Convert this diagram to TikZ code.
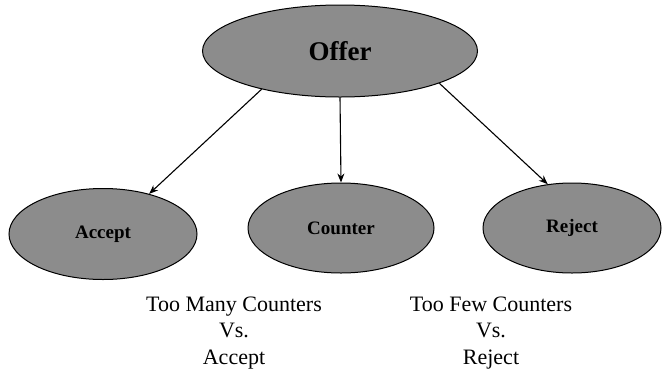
\documentclass[tikz,border=0pt]{standalone}
\usepackage{fontspec}
\setmainfont{Liberation Serif}
\usetikzlibrary{shapes.geometric,arrows.meta}
\definecolor{ovalgray}{rgb}{0.55,0.55,0.55}
\tikzset{
  oval/.style={ellipse, draw=black, line width=1pt, fill=ovalgray, inner sep=0pt,
    font=\bfseries\fontsize{19}{22}\selectfont},
  link/.style={draw=black, line width=1.1pt, -{Stealth[length=9pt,width=7pt]}},
  note/.style={align=center, font=\fontsize{22}{26.5}\selectfont, inner sep=0pt}
}
\begin{document}
\begin{tikzpicture}[x=1pt,y=-1pt]
\useasboundingbox (0,0) rectangle (663,373);
\node[oval, minimum width=275pt, minimum height=92pt, font=\bfseries\fontsize{27}{30}\selectfont] (offer) at (340,51) {Offer};
\node[oval, minimum width=188pt, minimum height=91pt] (accept) at (103,234) {Accept};
\node[oval, minimum width=186pt, minimum height=90pt] (counter) at (341,228) {Counter};
\node[oval, minimum width=178pt, minimum height=90pt] (reject) at (572,228) {Reject};
\draw[link] (offer.206.6) -- (accept.41);
\draw[link] (offer.south) -- (counter.north);
\draw[link] (offer.342) -- (reject.119);
\node[note] (left) at (234,333) {Too Many Counters\\Vs.\\Accept};
\node[note] (right) at (491,333) {Too Few Counters\\Vs.\\Reject};
\end{tikzpicture}
\end{document}
